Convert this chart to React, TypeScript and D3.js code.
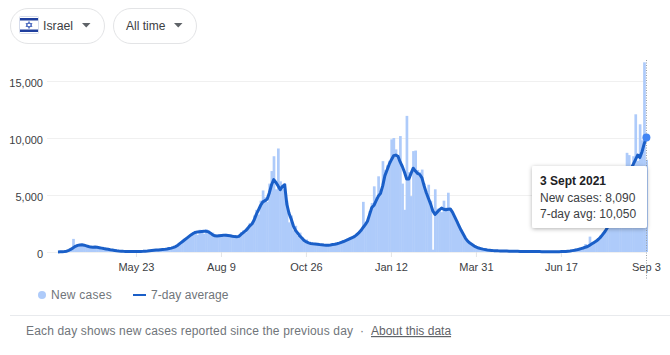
import React from "react";
import * as d3 from "d3";

const START = new Date(2020, 2, 12);
const STEP_DAYS = 2;

const newCases = [
  10,20,30,50,100,150,250,1150,500,600,
  700,650,620,550,500,450,430,450,420,400,
  350,300,280,250,200,180,150,120,90,80,
  60,50,50,40,30,40,45,50,50,70,
  80,90,120,140,160,170,190,220,210,240,
  280,320,350,420,520,650,800,1000,1150,1300,
  1400,1600,1750,1850,1500,1950,1900,1600,2000,1850,
  1500,1700,1500,1300,1550,1500,1350,1600,1500,1450,
  1500,1450,1250,1500,1750,1900,1700,2200,2550,2300,
  3200,3700,3300,4500,5400,4800,4400,6000,7100,8400,
  5500,9080,6200,5500,6000,4500,2600,3200,1900,2300,
  1400,1700,1300,1000,1100,850,700,800,700,750,
  650,600,650,600,580,700,640,750,700,850,
  950,1000,980,1200,1300,1250,1500,1650,1600,2000,
  4400,2600,2800,3600,4300,5760,4800,6640,5400,7970,
  7200,7600,8000,9880,10000,9000,8400,10170,6000,3700,
  11940,7000,4900,8850,8900,7200,7000,7230,6000,5000,
  5900,4500,200,5500,3800,3800,3500,4500,3900,5200,
  3800,3500,3000,2700,2300,1900,1500,1200,950,780,
  650,520,430,350,320,250,210,180,170,130,
  120,110,90,100,85,90,75,70,75,60,
  55,60,50,45,50,40,45,35,40,30,
  35,30,35,25,30,30,25,30,30,35,
  30,40,45,55,80,90,130,160,210,260,
  320,400,700,500,1350,800,900,1050,1200,1500,
  1700,1900,2300,2600,3100,3600,4000,4600,5200,5800,
  6400,8700,8500,7000,8400,12080,8000,11200,9800,16640,
  8090,
];

const sevenDayAvg = [
  10,20,30,40,70,150,250,380,500,580,
  620,630,600,540,480,430,420,430,410,380,
  340,300,270,240,200,170,140,110,90,75,
  60,50,45,40,38,38,40,45,50,60,
  75,90,110,130,150,170,185,200,215,230,
  260,300,340,400,480,600,760,900,1050,1200,
  1350,1500,1620,1720,1760,1780,1800,1820,1810,1780,
  1650,1500,1420,1400,1430,1450,1470,1460,1440,1420,
  1380,1350,1340,1370,1550,1700,1850,2050,2300,2450,
  2800,3300,3700,4100,4400,4500,4650,5200,5900,6350,
  6100,5800,5470,5760,5900,4200,3400,2900,2300,1900,
  1650,1400,1200,1000,880,800,750,720,700,680,
  650,630,610,600,600,620,650,680,720,780,
  850,920,1000,1080,1170,1260,1350,1500,1680,1880,
  2150,2400,2700,3300,3900,4100,4500,4900,5150,5800,
  6700,7200,7700,8100,8450,8500,8400,7900,7500,7000,
  6400,6400,6900,7350,7100,6900,6800,6500,5800,5200,
  4700,4200,3600,3300,3500,3700,3850,3750,3700,3750,
  3780,3500,3100,2700,2300,1900,1550,1200,950,780,
  650,520,430,350,300,250,210,180,160,140,
  120,110,100,95,90,85,80,75,70,65,
  60,55,50,50,45,45,40,40,40,38,
  35,35,32,30,30,28,28,28,30,30,
  32,35,40,50,70,90,120,150,190,240,
  300,350,420,480,600,720,840,960,1120,1300,
  1550,1800,2100,2450,2850,3300,3800,4300,4900,5500,
  6000,6500,7000,7350,7700,8100,8500,8300,8800,9500,
  10050,
];

const yTicks = [0, 5000, 10000, 15000];
const xTickLabels = ["May 23", "Aug 9", "Oct 26", "Jan 12", "Mar 31", "Jun 17", "Sep 3"];
const xTickDates = [
  new Date(2020, 4, 23), new Date(2020, 7, 9), new Date(2020, 9, 26),
  new Date(2021, 0, 12), new Date(2021, 2, 31), new Date(2021, 5, 17), new Date(2021, 8, 3),
];

const FONT = "'Liberation Sans', Arial, sans-serif";
const dayMs = 86400000;
const dateOf = (k: number) => new Date(START.getTime() + k * STEP_DAYS * dayMs);

export default function App() {
  const x = d3.scaleTime().domain([START, new Date(2021, 8, 3)]).range([58, 646.4]);
  const y = d3.scaleLinear().domain([0, 15000]).range([252, 81]);
  const barW = x(dateOf(1)) - x(dateOf(0));
  const line = d3.line<number>().x((_, i) => x(dateOf(i))).y((d) => y(d)).curve(d3.curveLinear);
  const last = sevenDayAvg.length - 1;

  return (
    <svg width={670} height={355} style={{ position: "absolute", left: 0, top: 0, fontFamily: FONT }}>
      <defs>
        <filter id="tip" x="-20%" y="-20%" width="140%" height="140%">
          <feDropShadow dx="0" dy="1" stdDeviation="2" floodColor="#000" floodOpacity="0.3" />
        </filter>
      </defs>
      <rect width={670} height={355} fill="#fff" />

      {/* dropdown chips */}
      <rect x={10.5} y={8.5} width={94} height={35} rx={17.5} fill="#fff" stroke="#e3e4e6" />
      <rect x={19.5} y={16.5} width={19} height={17} rx={1} fill="#fff" stroke="#d6dcec" />
      <rect x={20} y={18} width={18} height={2.5} fill="#1f3f9e" />
      <rect x={20} y={29.5} width={18} height={2.5} fill="#1f3f9e" />
      <path d="M29 21.5l3 5h-6zM29 28.5l-3-5h6z" fill="none" stroke="#4a68bd" strokeWidth={0.9} />
      <text x={43} y={30} fontSize={12.3} fill="#3c4043">Israel</text>
      <path d="M82 23h8.5l-4.25 4.5z" fill="#5f6368" />
      <rect x={113.5} y={8.5} width={83} height={35} rx={17.5} fill="#fff" stroke="#e3e4e6" />
      <text x={126} y={30} fontSize={12} fill="#3c4043">All time</text>
      <path d="M174 23h8.5l-4.25 4.5z" fill="#5f6368" />

      {/* grid */}
      {yTicks.map((t) => (
        <g key={t}>
          <line x1={47} x2={646} y1={y(t) + 0.5} y2={y(t) + 0.5} stroke="#f0f0f0" />
          <text x={43} y={y(t) + 6} textAnchor="end" fontSize={11} fill="#3c4043">{d3.format(",")(t)}</text>
        </g>
      ))}

      {/* bars */}
      {newCases.map((v, i) => (
        <rect key={i} x={x(dateOf(i)) - barW / 2} y={y(v)} width={barW + 0.5} height={Math.max(0, y(0) - y(v))} fill="#aecbfa" />
      ))}

      {/* x axis */}
      {xTickDates.map((d, i) => (
        <g key={xTickLabels[i]}>
          {i < xTickDates.length - 1 && (
            <line x1={x(d)} x2={x(d)} y1={252} y2={257} stroke="#e3e4e6" />
          )}
          <text x={x(d)} y={271} textAnchor="middle" fontSize={11} fill="#3c4043">{xTickLabels[i]}</text>
        </g>
      ))}

      {/* average */}
      <path d={line(sevenDayAvg) ?? ""} fill="none" stroke="#1a5fc8" strokeWidth={3} strokeLinejoin="round" />

      {/* hover */}
      <line x1={646.5} x2={646.5} y1={60} y2={280} stroke="#9aa0a6" strokeDasharray="1 1.5" />
      <circle cx={x(dateOf(last))} cy={y(sevenDayAvg[last])} r={4} fill="#4285f4" />

      {/* tooltip */}
      <rect x={532} y={166} width={115} height={62} rx={2} fill="#fff" filter="url(#tip)" />
      <text x={540} y={185} fontSize={12} fontWeight="bold" fill="#202124">3 Sept 2021</text>
      <text x={540} y={202} fontSize={12} fill="#3c4043">New cases: 8,090</text>
      <text x={540} y={218} fontSize={12} fill="#3c4043">7-day avg: 10,050</text>

      {/* legend */}
      <circle cx={42} cy={295} r={4} fill="#aecbfa" />
      <text x={51} y={299} fontSize={12} letterSpacing={0.25} fill="#70757a">New cases</text>
      <line x1={133} x2={146} y1={295} y2={295} stroke="#1a5fc8" strokeWidth={2} />
      <text x={151} y={299} fontSize={12} letterSpacing={0.05} fill="#70757a">7-day average</text>

      {/* footer */}
      <line x1={10} x2={670} y1={315.5} y2={315.5} stroke="#e8eaed" />
      <text x={26} y={335} fontSize={12} letterSpacing={0.16} fill="#70757a">Each day shows new cases reported since the previous day</text>
      <text x={360} y={335} fontSize={12} fill="#70757a">·</text>
      <text x={371} y={335} fontSize={12} fill="#5f6368" textDecoration="underline">About this data</text>
    </svg>
  );
}
